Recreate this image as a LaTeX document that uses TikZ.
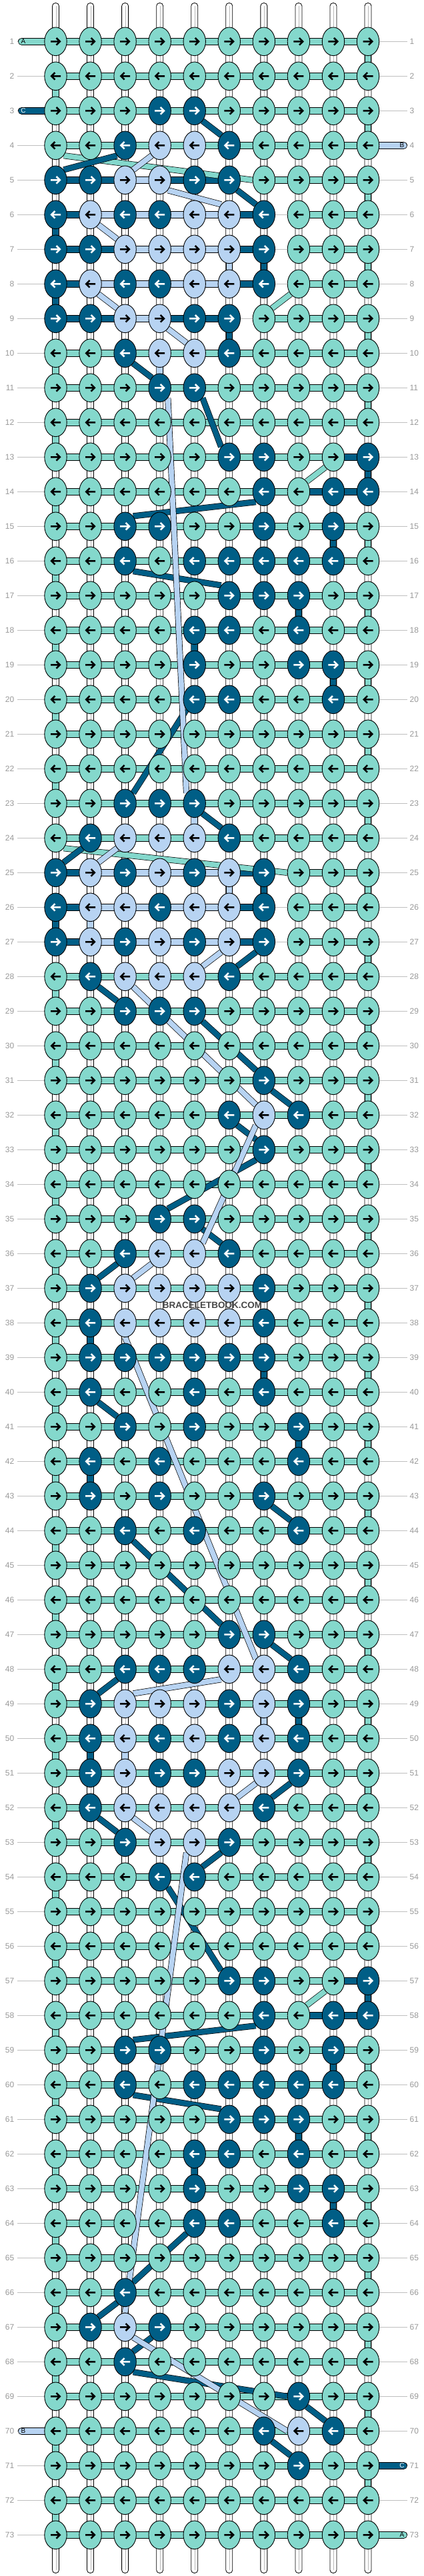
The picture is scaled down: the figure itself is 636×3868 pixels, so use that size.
\documentclass[tikz,border=0pt]{standalone}
\usepackage{fontspec}
\setmainfont{Liberation Sans}
\usetikzlibrary{shapes.geometric}
\definecolor{kT}{RGB}{132,216,204}
\definecolor{kD}{RGB}{0,94,134}
\definecolor{kL}{RGB}{183,211,242}
\colorlet{arrT}{black}
\colorlet{arrL}{black}
\colorlet{arrD}{white}
\pgfdeclarelayer{strings}
\pgfdeclarelayer{conns}
\pgfdeclarelayer{diags}
\pgfsetlayers{strings,conns,diags,main}
\newcommand\sethc[3]{\expandafter\gdef\csname hc@#1@#2\endcsname{#3}}
% horizontal connector exceptions (row, left column, colour; N = none)
\sethc{5}{1}{D}\sethc{5}{2}{D}\sethc{5}{3}{L}\sethc{5}{4}{D}\sethc{5}{5}{D}\sethc{5}{6}{N}
\sethc{6}{1}{D}\sethc{6}{2}{L}\sethc{6}{3}{L}\sethc{6}{4}{L}\sethc{6}{5}{L}\sethc{6}{6}{D}\sethc{6}{7}{N}
\sethc{7}{1}{D}\sethc{7}{2}{D}\sethc{7}{3}{L}\sethc{7}{4}{L}\sethc{7}{5}{L}\sethc{7}{6}{D}\sethc{7}{7}{N}
\sethc{8}{1}{D}\sethc{8}{2}{L}\sethc{8}{3}{L}\sethc{8}{4}{L}\sethc{8}{5}{L}\sethc{8}{6}{D}\sethc{8}{7}{N}
\sethc{9}{1}{D}\sethc{9}{2}{D}\sethc{9}{3}{L}\sethc{9}{4}{D}\sethc{9}{5}{D}\sethc{9}{6}{N}
\sethc{13}{9}{D}\sethc{14}{8}{D}\sethc{14}{9}{D}
\sethc{25}{1}{D}\sethc{25}{2}{L}\sethc{25}{3}{L}\sethc{25}{4}{L}\sethc{25}{5}{L}\sethc{25}{6}{D}\sethc{25}{7}{N}
\sethc{26}{1}{D}\sethc{26}{2}{L}\sethc{26}{3}{L}\sethc{26}{4}{L}\sethc{26}{5}{L}\sethc{26}{6}{D}\sethc{26}{7}{N}
\sethc{27}{1}{D}\sethc{27}{2}{L}\sethc{27}{3}{L}\sethc{27}{4}{L}\sethc{27}{5}{L}\sethc{27}{6}{D}\sethc{27}{7}{N}
\sethc{57}{9}{D}\sethc{58}{8}{D}\sethc{58}{9}{D}
\tikzset{
  knot/.style={ellipse, draw=black, line width=0.9pt, minimum width=33.4pt, minimum height=42.6pt, inner sep=0pt},
  arw/.style={line width=2.5pt, line join=miter},
  band/.style={line width=9.6pt, preaction={draw=black, line width=11.2pt}},
  vband/.style={line width=8.6pt, preaction={draw=black, line width=10.2pt}},
  stub/.style={line width=9.6pt, line cap=round, preaction={draw=black, line width=11.2pt, line cap=round}},
  dg/.style={line width=7.8pt, preaction={draw=black, line width=9.2pt}},
  rowlbl/.style={inner sep=0pt, text=black!40, font=\fontsize{12}{14}\selectfont},
  stublbl/.style={inner sep=0pt, font=\fontsize{10}{12}\selectfont},
  tube/.style={draw=black, fill=white, line width=0.8pt, rounded corners=4.5pt},
}
\begin{document}
\begin{tikzpicture}[x=1pt,y=-1pt]
\useasboundingbox (0,0) rectangle (636,3868);
\begin{pgfonlayer}{strings}
\fill[white] (0,0) rectangle (636,3868);
\foreach \rr in {1,...,73}{
  \pgfmathsetmacro\yy{62.3+52*(\rr-1)}
  \draw[black!25, line width=1pt] (26,\yy) -- (611,\yy);
  \node[rowlbl, anchor=east] (ll-\rr) at (21.5,\yy) {\rr};
  \node[rowlbl, anchor=west] (rl-\rr) at (614.5,\yy) {\rr};
}
\foreach \cc in {1,...,10}{
  \pgfmathsetmacro\xx{83.5+52.06*(\cc-1)}
  \draw[tube] (\xx-5,4.5) rectangle (\xx+5,3863.5);
  \draw[black!28, line width=1.2pt] (\xx+0.8,9) -- (\xx+0.8,3859);
}
\end{pgfonlayer}
% knots
\foreach \rowdata [count=\rr] in {
{T,T,T,T,T,T,T,T,T,T},
{T,T,T,T,T,T,T,T,T,T},
{T,T,T,D,D,T,T,T,T,T},
{T,T,D,L,L,D,T,T,T,T},
{D,D,L,L,D,D,T,T,T,T},
{D,L,D,D,L,L,D,T,T,T},
{D,D,L,L,L,L,D,T,T,T},
{D,L,D,D,L,L,D,T,T,T},
{D,D,L,L,D,D,T,T,T,T},
{T,T,D,L,L,D,T,T,T,T},
{T,T,T,D,D,T,T,T,T,T},
{T,T,T,T,T,T,T,T,T,T},
{T,T,T,T,T,D,D,T,T,D},
{T,T,T,T,T,T,D,T,D,D},
{T,T,D,D,T,T,D,T,D,T},
{T,T,D,T,D,D,D,D,D,T},
{T,T,T,T,T,D,D,D,T,T},
{T,T,T,T,D,D,T,D,T,T},
{T,T,T,T,D,T,T,D,D,T},
{T,T,T,T,D,D,T,T,D,T},
{T,T,T,T,T,T,T,T,T,T},
{T,T,T,T,T,T,T,T,T,T},
{T,T,D,D,D,T,T,T,T,T},
{T,D,L,L,L,D,T,T,T,T},
{D,L,D,L,D,L,D,T,T,T},
{D,L,L,D,L,L,D,T,T,T},
{D,L,D,L,D,L,D,T,T,T},
{T,D,L,L,L,D,T,T,T,T},
{T,T,D,D,D,T,T,T,T,T},
{T,T,T,T,T,T,T,T,T,T},
{T,T,T,T,T,T,D,T,T,T},
{T,T,T,T,T,D,L,D,T,T},
{T,T,T,T,T,T,D,T,T,T},
{T,T,T,T,T,T,T,T,T,T},
{T,T,T,D,D,T,T,T,T,T},
{T,T,D,L,L,D,T,T,T,T},
{T,D,L,L,L,L,D,T,T,T},
{T,D,L,L,L,L,D,T,T,T},
{T,D,D,D,D,D,D,T,T,T},
{T,D,T,T,D,T,D,T,T,T},
{T,T,D,T,D,T,T,D,T,T},
{T,D,T,D,T,T,T,D,T,T},
{T,D,T,D,T,T,D,T,T,T},
{T,T,D,T,D,T,T,D,T,T},
{T,T,T,T,T,T,T,T,T,T},
{T,T,T,T,T,T,T,T,T,T},
{T,T,T,T,T,D,D,T,T,T},
{T,T,D,D,D,L,L,D,T,T},
{T,D,L,L,L,D,L,D,T,T},
{T,D,L,D,L,D,L,D,T,T},
{T,D,L,D,D,L,L,D,T,T},
{T,D,L,L,L,L,D,T,T,T},
{T,T,D,L,L,D,T,T,T,T},
{T,T,T,D,D,T,T,T,T,T},
{T,T,T,T,T,T,T,T,T,T},
{T,T,T,T,T,T,T,T,T,T},
{T,T,T,T,T,D,D,T,T,D},
{T,T,T,T,T,T,D,T,D,D},
{T,T,D,D,T,T,D,T,D,T},
{T,T,D,T,D,D,D,D,D,T},
{T,T,T,T,T,D,D,D,T,T},
{T,T,T,T,D,D,T,D,T,T},
{T,T,T,T,D,T,T,D,D,T},
{T,T,T,T,D,D,T,T,D,T},
{T,T,T,T,T,T,T,T,T,T},
{T,T,D,T,T,T,T,T,T,T},
{T,D,L,D,T,T,T,T,T,T},
{T,T,D,T,T,T,T,T,T,T},
{T,T,T,T,T,T,T,D,T,T},
{T,T,T,T,T,T,D,L,D,T},
{T,T,T,T,T,T,T,D,T,T},
{T,T,T,T,T,T,T,T,T,T},
{T,T,T,T,T,T,T,T,T,T}}{
  \foreach \kc [count=\cc] in \rowdata {
    \expandafter\xdef\csname kc@\rr @\cc\endcsname{\kc}
    \pgfmathsetmacro\xx{83.5+52.06*(\cc-1)}
    \pgfmathsetmacro\yy{62.3+52*(\rr-1)}
    \node[knot, fill=k\kc] (k-\rr-\cc) at (\xx,\yy) {};
    \ifodd\rr
      \draw[arw, draw=arr\kc] (\xx-7.5,\yy) -- (\xx+5.5,\yy) (\xx+1,\yy-5.3) -- (\xx+6.3,\yy) -- (\xx+1,\yy+5.3);
    \else
      \draw[arw, draw=arr\kc] (\xx+7.5,\yy) -- (\xx-5.5,\yy) (\xx-1,\yy-5.3) -- (\xx-6.3,\yy) -- (\xx-1,\yy+5.3);
    \fi
  }
}
% connectors
\begin{pgfonlayer}{conns}
\foreach \rr in {1,...,73}{
  \foreach \cc in {1,...,9}{
    \pgfmathtruncatemacro\cn{\cc+1}
    \ifcsname hc@\rr @\cc\endcsname \edef\hcol{\csname hc@\rr @\cc\endcsname}\else\def\hcol{T}\fi
    \if N\hcol\else \draw[band, draw=k\hcol] (k-\rr-\cc.center) -- (k-\rr-\cn.center);\fi
  }
}
\foreach \rr in {1,...,72}{
  \pgfmathtruncatemacro\rn{\rr+1}
  \ifodd\rr \def\cc{10}\else \def\cc{1}\fi
  \edef\ca{\csname kc@\rr @\cc\endcsname}
  \edef\cb{\csname kc@\rn @\cc\endcsname}
  \ifx\ca\cb \draw[vband, draw=k\ca] (k-\rr-\cc.center) -- (k-\rn-\cc.center);\fi
}
\foreach \cc/\rr/\vc in {7/7/D, 6/7/L, 6/9/D, 4/10/L, 9/15/D, 8/17/D, 5/18/D, 9/19/D, 5/23/L, 7/25/D, 6/25/L, 2/26/L, 2/38/D, 7/39/D, 8/41/D, 2/42/D, 7/49/L, 8/49/D, 2/50/D, 3/50/L, 9/59/D, 8/61/D, 5/62/D, 9/63/D}{
  \pgfmathtruncatemacro\rn{\rr+1}
  \draw[vband, draw=k\vc] (k-\rr-\cc.center) -- (k-\rn-\cc.center);
}
% loose string ends
\coordinate (sA1) at (32.6,62.3);
\coordinate (sC1) at (32.6,166.3);
\coordinate (sB1) at (605.4,218.3);
\coordinate (sB2) at (32.6,3650.3);
\coordinate (sC2) at (605.4,3702.3);
\coordinate (sA2) at (605.4,3806.3);
\draw[stub, draw=kT] (sA1) -- (k-1-1.center);
\draw[stub, draw=kD] (sC1) -- (k-3-1.center);
\draw[stub, draw=kL] (sB1) -- (k-4-10.center);
\draw[stub, draw=kL] (sB2) -- (k-70-1.center);
\draw[stub, draw=kD] (sC2) -- (k-71-10.center);
\draw[stub, draw=kT] (sA2) -- (k-73-10.center);
\node[stublbl] (tA1) at (35,62.3) {A};
\node[stublbl, text=white] (tC1) at (35,166.3) {C};
\node[stublbl] (tB1) at (603,218.3) {B};
\node[stublbl] (tB2) at (35,3650.3) {B};
\node[stublbl, text=white] (tC2) at (603,3702.3) {C};
\node[stublbl] (tA2) at (603,3806.3) {A};
\end{pgfonlayer}
% carried strings
\begin{pgfonlayer}{diags}
\foreach \a/\b in {k-4-1.south east/k-5-7.west, k-8-8.south west/k-9-7.north east, k-13-9.south west/k-14-8.north east, k-24-1.south east/k-25-8.west, k-57-9.south west/k-58-8.north east}{
  \draw[dg, draw=kT] (\a) -- (\b);
}
\foreach \a/\b in {k-3-5.south east/k-4-6.north west, k-4-3.south west/k-5-1.north east, k-5-6.south east/k-6-7.north west, k-10-3.south east/k-11-4.north west, k-11-5.south east/k-13-6.north west, k-14-7.south west/k-15-3.north east, k-16-3.south east/k-17-6.north west, k-20-5.south west/k-23-3.north east, k-23-5.south east/k-24-6.north west, k-24-2.south west/k-25-1.north east, k-27-7.south west/k-28-6.north east, k-28-2.south east/k-29-3.north west, k-29-5.south east/k-31-7.north west, k-31-7.south east/k-32-8.north west, k-32-6.south east/k-33-7.north west, k-33-7.south west/k-35-4.north east, k-35-5.south east/k-36-6.north west, k-36-3.south west/k-37-2.north east, k-40-2.south east/k-41-3.north west, k-43-7.south east/k-44-8.north west, k-44-3.south east/k-47-6.north west, k-47-7.south east/k-48-8.north west, k-48-3.south west/k-49-2.north east, k-51-8.south west/k-52-7.north east, k-52-2.south east/k-53-3.north west, k-53-6.south west/k-54-5.north east, k-54-4.south east/k-57-6.north west, k-58-7.south west/k-59-3.north east, k-60-3.south east/k-61-6.north west, k-64-5.south west/k-66-3.north east, k-66-3.south west/k-67-2.north east, k-67-4.south west/k-68-3.north east, k-68-3.south east/k-69-8.west, k-69-8.south east/k-70-9.north west, k-70-7.south east/k-71-8.north west}{
  \draw[dg, draw=kD] (\a) -- (\b);
}
\foreach \a/\b in {k-4-4.south west/k-5-3.north east, k-5-4.south east/k-6-6.north west, k-6-2.south east/k-7-3.north west, k-8-2.south east/k-9-3.north west, k-9-4.south east/k-10-5.north west, k-11-4.south east/k-23-5.north west, k-24-3.south west/k-25-2.north east, k-27-6.south west/k-28-5.north east, k-28-3.south east/k-32-7.north west, k-32-7.south west/k-36-5.north east, k-36-4.south west/k-37-3.north east, k-38-3.south/k-48-7.north west, k-48-6.south west/k-49-3.north east, k-51-7.south west/k-52-6.north east, k-52-3.south east/k-53-4.north west, k-53-5.south west/k-67-3.north, k-67-3.south east/k-70-8.west}{
  \draw[dg, draw=kL] (\a) -- (\b);
}
\end{pgfonlayer}
\node[font=\bfseries\fontsize{13.5}{16}\selectfont, text=black!72, inner sep=0pt] (wm) at (318.5,1960.3) {BRACELETBOOK.COM};
\end{tikzpicture}
\end{document}
